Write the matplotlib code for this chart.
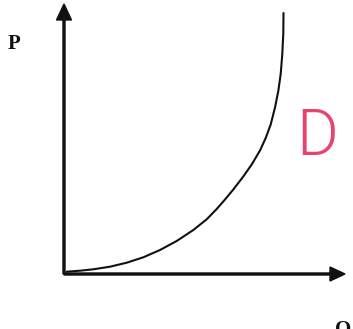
"""Supply-style curve sketch: P against Q with a hand-written D label."""

import matplotlib
matplotlib.use("Agg")
import matplotlib.pyplot as plt

# curve (Q, P in drawing units, origin at the axes corner)
curve_q = [2.7, 16, 29.3, 46, 62.7, 79.3, 96, 112.7, 129.3, 142.7, 152.7, 161,
           169.3, 179.3, 187.7, 196, 201.7, 206.7, 211, 214.3, 216.7, 218.3,
           219.3, 219.5]
curve_p = [2.3, 3.3, 4.7, 7.3, 11.3, 16.7, 24, 33, 44, 54.7, 65, 74.5,
           84.5, 97.5, 109.5, 123.5, 136, 149.5, 166.5, 183, 200, 220,
           240.7, 261]

axis_labels = ["P", "Q"]
curve_label = "D"

fig = plt.figure(figsize=(3.53, 3.29), dpi=100)
ax = fig.add_axes([0, 0, 1, 1])
ax.set_xlim(-64, 289)
ax.set_ylim(-55, 274)
ax.axis("off")

# axes with arrow heads
ax.arrow(0, 0, 0, 270, width=2, head_width=15, head_length=16,
         length_includes_head=True, color="#111111")
ax.arrow(0, 0, 281, 0, width=2, head_width=14, head_length=15,
         length_includes_head=True, color="#111111")

ax.plot(curve_q, curve_p, color="#111111", lw=1.5, solid_capstyle="round",
        solid_joinstyle="round")

ax.text(-49.5, 230, axis_labels[0], fontsize=15, fontweight="bold",
        family="Liberation Serif", ha="center", va="center", color="#111111")
ax.text(279, -56, axis_labels[1], fontsize=15, fontweight="bold",
        family="Liberation Serif", ha="center", va="center", color="#111111")

ax.text(253, 119, curve_label, fontsize=46, fontweight=300, family="Roboto",
        ha="center", va="baseline", color="#e8436f")

fig.savefig("out.png", dpi=100)
